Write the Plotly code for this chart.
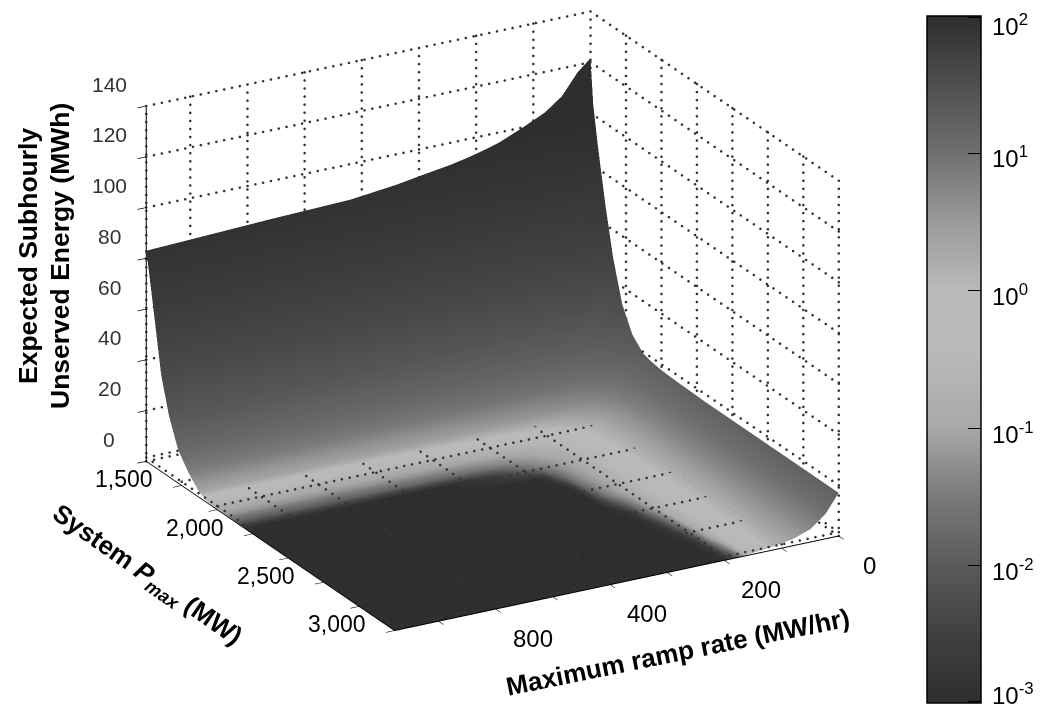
import math
import plotly.graph_objects as go

W, H = 1042, 707
FONT = "Liberation Sans"

pmax = [1500, 1520, 1550, 1605, 1660, 1725, 1795, 1870, 1920, 1990, 2060, 2130,
        2200, 2305, 2410, 2550, 2725, 2900, 3075, 3250]
ramp = [0, 23, 50, 80, 118, 160, 180, 200, 215, 230, 245, 260, 275, 290, 340, 420, 560, 777]
# rows follow pmax, columns follow ramp
energy = [
    [121.6, 117, 109, 104, 100, 96, 94.7, 93.5, 92.7, 92, 91.3, 90.8, 90.3, 89.8, 88, 86, 85, 83],
    [104, 97, 90, 87, 84, 82, 81.2, 80.5, 80, 79.4, 78.8, 78.3, 77.9, 77.5, 77, 76.3, 75.6, 75],
    [90, 84, 78, 74, 71, 69, 68.2, 67.5, 67, 66.6, 66.2, 65.8, 65.4, 65, 64.5, 63.5, 62.8, 62],
    [68, 60, 53, 49, 46, 44, 43.5, 43, 42.7, 42.3, 42, 41.6, 41.2, 40.8, 40, 39.2, 38.5, 38],
    [49, 42, 36, 32, 29.5, 28, 27.5, 27, 26.8, 26.6, 26.4, 26.2, 26, 25.8, 25.3, 24.8, 24.3, 24],
    [33, 27, 21.5, 19, 17.5, 16.5, 16, 15.5, 15.3, 15.1, 14.9, 14.7, 14.5, 14.3, 14, 13.6, 13.2, 13],
    [24, 19, 14, 11.5, 10.3, 9.5, 9.2, 9, 8.8, 8.7, 8.55, 8.4, 8.3, 8.2, 7.9, 7.5, 7.2, 7],
    [19.5, 14, 9.5, 6.5, 4.8, 4, 3.7, 3.5, 3.35, 3.25, 3.15, 3.05, 3, 2.95, 2.8, 2.5, 2.3, 2.2],
    [18.5, 12.5, 7.8, 4.5, 2.6, 1.7, 1.45, 1.3, 1.2, 1.12, 1.06, 1, 0.95, 0.9, 0.8, 0.65, 0.55, 0.5],
    [17.8, 11.2, 6.6, 3.4, 1.6, 0.8, 0.62, 0.5, 0.42, 0.37, 0.33, 0.29, 0.27, 0.25, 0.2, 0.17, 0.15, 0.15],
    [17.5, 10.6, 6, 3, 1.35, 0.6, 0.4, 0.28, 0.22, 0.18, 0.15, 0.13, 0.11, 0.1, 0.08, 0.07, 0.06, 0.06],
    [17.3, 10.3, 5.8, 2.8, 1.25, 0.5, 0.32, 0.2, 0.14, 0.11, 0.09, 0.07, 0.06, 0.05, 0.03, 0.02, 0.014, 0.012],
    [17.2, 10.2, 5.7, 2.75, 1.2, 0.45, 0.27, 0.16, 0.11, 0.08, 0.06, 0.045, 0.03, 0.018, 0.003, 0.001, 0.001, 0.001],
    [17, 10.1, 5.6, 2.7, 1.15, 0.42, 0.25, 0.14, 0.09, 0.06, 0.035, 0.012, 0.002, 0.001, 0.001, 0.001, 0.001, 0.001],
    [17, 10, 5.5, 2.7, 1.1, 0.4, 0.24, 0.12, 0.08, 0.05, 0.02, 0.002, 0.001, 0.001, 0.001, 0.001, 0.001, 0.001],
    [17, 10, 5.5, 2.6, 1.1, 0.38, 0.22, 0.1, 0.065, 0.03, 0.006, 0.001, 0.001, 0.001, 0.001, 0.001, 0.001, 0.001],
    [17, 10, 5.4, 2.6, 1.1, 0.36, 0.18, 0.06, 0.015, 0.002, 0.001, 0.001, 0.001, 0.001, 0.001, 0.001, 0.001, 0.001],
    [17, 10, 5.3, 2.6, 1.1, 0.34, 0.12, 0.012, 0.002, 0.001, 0.001, 0.001, 0.001, 0.001, 0.001, 0.001, 0.001, 0.001],
    [17, 10, 5.2, 2.6, 1.1, 0.3, 0.05, 0.002, 0.001, 0.001, 0.001, 0.001, 0.001, 0.001, 0.001, 0.001, 0.001, 0.001],
    [17, 9.8, 5, 2.6, 1.2, 0.25, 0.006, 0.001, 0.001, 0.001, 0.001, 0.001, 0.001, 0.001, 0.001, 0.001, 0.001, 0.001],
]
energy_t = [list(col) for col in zip(*energy)]
log_energy_t = [[math.log10(v) for v in row] for row in energy_t]

x_ticks = [1500, 1750, 2000, 2250, 2500, 2750, 3000, 3250]
x_labelled = {1500: "1,500", 2000: "2,000", 2500: "2,500", 3000: "3,000"}
y_ticks = [0, 100, 200, 300, 400, 500, 600, 700]
y_labelled = {0: "0", 200: "200", 400: "400", 600: "800"}
z_ticks = [0, 20, 40, 60, 80, 100, 120, 140]
x_lim = [1500, 3250]
y_lim = [0, 777]
z_lim = [0, 140]

cbar_exponents = [-3, -2, -1, 0, 1, 2]
cbar_positions = [-2.99, -2, -1, 0, 1, 1.99]
cbar_label_y = [686, 562, 425, 287, 149, 17]
gray_stops = [
    [0.0, "#2e2e2e"], [0.1, "#404040"], [0.2, "#5a5a5a"], [0.3, "#7a7a7a"],
    [0.4, "#a8a8a8"], [0.5, "#b8b8b8"], [0.6, "#bababa"], [0.7, "#9a9a9a"],
    [0.8, "#707070"], [0.9, "#4f4f4f"], [1.0, "#2e2e2e"],
]

fig = go.Figure()
fig.add_trace(go.Surface(
    x=pmax, y=ramp, z=energy_t, surfacecolor=log_energy_t, cmin=-3, cmax=2,
    colorscale=gray_stops, hoverinfo="skip",
    lighting=dict(ambient=1, diffuse=0, specular=0, roughness=1, fresnel=0),
    colorbar=dict(
        lenmode="pixels", len=687, thicknessmode="pixels", thickness=54,
        x=919 / W, xanchor="left", y=1 - 351.5 / H, yanchor="middle",
        xpad=0, ypad=0, outlinecolor="black", outlinewidth=1.5,
        ticks="inside", ticklen=13, tickcolor="black", tickwidth=1,
        tickvals=cbar_positions, showticklabels=False,
    ),
))

# Dotted wall and floor grid, drawn as rows of small dots
gx, gy, gz = [], [], []
def dots(a, b, n):
    for i in range(n + 1):
        f = i / n
        gx.append(a[0] + (b[0] - a[0]) * f)
        gy.append(a[1] + (b[1] - a[1]) * f)
        gz.append(a[2] + (b[2] - a[2]) * f)
NX, NY, NZ = 38, 57, 44
FLOOR = 1.5
for v in y_ticks + [y_lim[1]]:
    dots((x_lim[0], v, z_lim[0]), (x_lim[0], v, z_lim[1]), NZ)
    dots((x_lim[0], v, FLOOR), (x_lim[1], v, FLOOR), NX)
for v in x_ticks:
    dots((v, y_lim[0], z_lim[0]), (v, y_lim[0], z_lim[1]), NZ)
    dots((v, y_lim[0], FLOOR), (v, y_lim[1], FLOOR), NY)
for v in z_ticks:
    dots((x_lim[0], y_lim[0], v), (x_lim[0], y_lim[1], v), NY)
    dots((x_lim[0], y_lim[0], v), (x_lim[1], y_lim[0], v), NX)
fig.add_trace(go.Scatter3d(x=gx, y=gy, z=gz, mode="markers", hoverinfo="skip",
                           showlegend=False,
                           marker=dict(color="#333333", size=1.5, line=dict(width=0))))

axis_common = dict(
    showgrid=False, zeroline=False, showbackground=False, showspikes=False,
    showline=True, linecolor="black", linewidth=2, ticks="outside", ticklen=10,
    tickcolor="black", tickwidth=1.5, showticklabels=False, title=dict(text=""),
)
scene_annotations = []
def tick_text(x, y, z, text, dx, dy, size, color="black"):
    scene_annotations.append(dict(
        x=x, y=y, z=z, text=text, showarrow=False, xshift=dx, yshift=dy,
        xanchor="center", yanchor="middle",
        font=dict(family=FONT, size=size, color=color)))
for v in z_ticks:
    tick_text(x_lim[0], y_lim[1], v, str(v), -37, 22, 21, "#333333")
for v, t in x_labelled.items():
    tick_text(v, y_lim[1], 0, t, -22, -18, 23)
for v, t in y_labelled.items():
    tick_text(x_lim[1], v, 0, t, 37 if v else 31, -29 if v else -30, 24)

eye_dist = 1.25
SCALE = 1.626
elev, azim = math.radians(22.4), math.radians(-29.2)
def title(x, y, text, angle, size):
    return dict(x=x / W, y=1 - y / H, xref="paper", yref="paper", showarrow=False,
                xanchor="center", yanchor="middle", text=text, textangle=angle,
                font=dict(family=FONT, size=size, color="black"))
cbar_labels = [
    dict(x=982 / W, y=1 - yy / H, xref="paper", yref="paper", showarrow=False,
         xanchor="left", yanchor="middle", text=f"10<sup>{e}</sup>",
         font=dict(family=FONT, size=24, color="black"))
    for e, yy in zip(cbar_exponents, cbar_label_y)
]
fig.update_layout(
    width=W, height=H, autosize=False, paper_bgcolor="white", plot_bgcolor="white",
    margin=dict(l=0, r=0, t=0, b=0), showlegend=False,
    scene=dict(
        domain=dict(x=[0, 969 / W], y=[81 / H, 1]),
        xaxis=dict(axis_common, range=x_lim, tickvals=x_ticks),
        yaxis=dict(axis_common, range=y_lim[::-1], tickvals=y_ticks),
        zaxis=dict(axis_common, range=z_lim, tickvals=z_ticks),
        aspectmode="manual", aspectratio=dict(x=SCALE, y=SCALE, z=0.755 * SCALE),
        camera=dict(
            projection=dict(type="orthographic"),
            up=dict(x=0, y=0, z=1), center=dict(x=0, y=0, z=0),
            eye=dict(x=eye_dist * math.cos(elev) * math.cos(azim),
                     y=eye_dist * math.cos(elev) * math.sin(azim),
                     z=eye_dist * math.sin(elev)),
        ),
        annotations=scene_annotations,
    ),
    annotations=[
        title(20, 248, "<b>Expected Subhourly</b>", -90, 26.5),
        title(52, 248, "<b>Unserved Energy (MWh)</b>", -90, 26.5),
        title(139, 567, "<b>System <i>P</i><sub><i>max</i></sub> (MW)</b>", 35, 26),
        title(670, 644, "<b>Maximum ramp rate (MW/hr)</b>", -11.5, 26),
    ] + cbar_labels,
    shapes=[dict(type="line", xref="paper", yref="paper", x0=919 / W, x1=932 / W,
                 y0=1 - (694 - (e + 3) * 137.4) / H, y1=1 - (694 - (e + 3) * 137.4) / H,
                 line=dict(color="black", width=1))
            for e in cbar_exponents[1:-1]],
)
fig.write_html("out.html")
